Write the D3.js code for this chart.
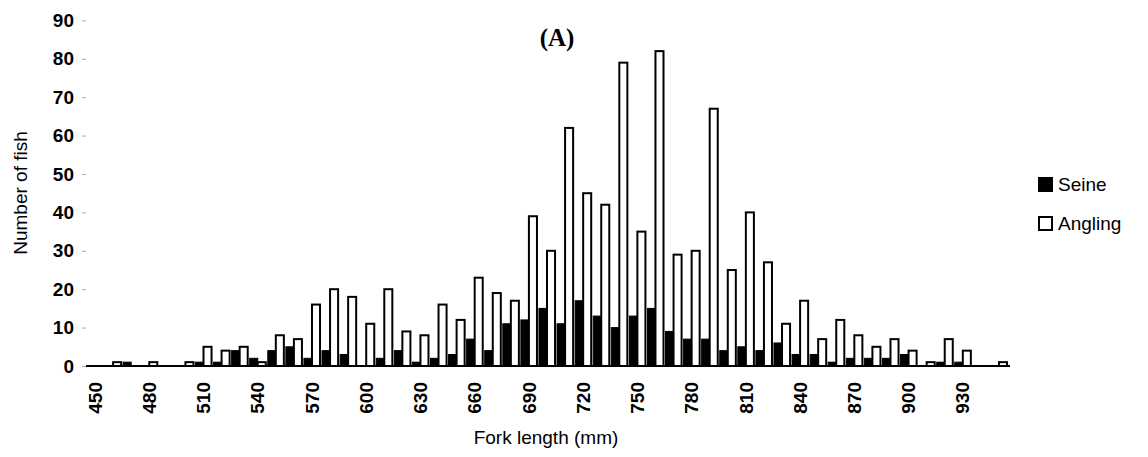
<!DOCTYPE html>
<html>
<head>
<meta charset="utf-8">
<script src="https://cdn.jsdelivr.net/npm/d3@7"></script>
<style>
  html, body { margin: 0; padding: 0; background: #fff; }
  svg { display: block; }
  text { fill: #000; }
</style>
</head>
<body>
<svg id="chart" width="1148" height="457"></svg>
<script>
// ---- data ----
const categories = [450,460,470,480,490,500,510,520,530,540,550,560,570,580,590,600,610,620,630,640,650,660,670,680,690,700,710,720,730,740,750,760,770,780,790,800,810,820,830,840,850,860,870,880,890,900,910,920,930,940,950];
const seine   = [0,0,1,0,0,0,1,1,4,2,4,5,2,4,3,0,2,4,1,2,3,7,4,11,12,15,11,17,13,10,13,15,9,7,7,4,5,4,6,3,3,1,2,2,2,3,0,1,1,0,0];
const angling = [0,1,0,1,0,1,5,4,5,1,8,7,16,20,18,11,20,9,8,16,12,23,19,17,39,30,62,45,42,79,35,82,29,30,67,25,40,27,11,17,7,12,8,5,7,4,1,7,4,0,1];
const seriesNames = ["Seine", "Angling"];
const xTickLabels = [450,480,510,540,570,600,630,660,690,720,750,780,810,840,870,900,930];
const yTickValues = [0,10,20,30,40,50,60,70,80,90];

const SANS = "'Liberation Sans', Arial, sans-serif";
const SERIF = "'Liberation Serif', 'Times New Roman', serif";

const svg = d3.select("#chart");

const x = d3.scaleBand().domain(categories).range([86, 1008]).padding(0);
const bw = x.bandwidth();
const xs = d3.scaleBand().domain(seriesNames).range([1, bw - 1]).padding(0);
const y = d3.scaleLinear().domain([0, 90]).range([366, 20.4]);

// bars
const rows = categories.map((c, i) => ({c, Seine: seine[i], Angling: angling[i]}));

const g = svg.append("g");
seriesNames.forEach(s => {
  g.selectAll("rect." + s)
    .data(rows.filter(d => d[s] > 0))
    .join("rect")
    .attr("class", s)
    .attr("x", d => x(d.c) + xs(s))
    .attr("y", d => y(d[s]))
    .attr("width", xs.bandwidth())
    .attr("height", d => y(0) - y(d[s]))
    .attr("fill", s === "Seine" ? "#000" : "#fff")
    .attr("stroke", "#000")
    .attr("stroke-width", s === "Seine" ? 1 : 2);
});

// baseline
svg.append("line")
  .attr("x1", 86).attr("x2", 1010)
  .attr("y1", y(0)).attr("y2", y(0))
  .attr("stroke", "#000").attr("stroke-width", 2);

// y axis (ticks faint, no line)
const yAxis = d3.axisLeft(y).tickValues(yTickValues).tickSize(4).tickPadding(8);
const ya = svg.append("g").attr("transform", "translate(86,0)").call(yAxis);
ya.select(".domain").remove();
ya.selectAll(".tick line").attr("stroke", "#aaa");
ya.selectAll(".tick text")
  .style("font-size", "19px").style("font-weight", "bold")
  .style("font-family", SANS)
  .attr("fill", "#000");

// x axis labels
const xAxis = d3.axisBottom(x).tickValues(xTickLabels).tickSize(0);
const xa = svg.append("g").attr("transform", `translate(0,${y(0)})`).call(xAxis);
xa.select(".domain").remove();
xa.selectAll(".tick text")
  .style("font-size", "19px").style("font-weight", "bold")
  .style("font-family", SANS)
  .attr("fill", "#000")
  .attr("text-anchor", "end")
  .attr("transform", "rotate(-90)")
  .attr("x", -16).attr("y", 0).attr("dy", "0.35em");

// axis titles
svg.append("text")
  .attr("x", 546).attr("y", 444)
  .attr("text-anchor", "middle")
  .style("font-family", SANS).style("font-size", "19px")
  .text("Fork length (mm)");

svg.append("text")
  .attr("transform", "translate(27,193) rotate(-90)")
  .attr("text-anchor", "middle")
  .style("font-family", SANS).style("font-size", "19px")
  .text("Number of fish");

// panel title
svg.append("text")
  .attr("x", 557).attr("y", 46)
  .attr("text-anchor", "middle")
  .style("font-family", SERIF)
  .style("font-weight", "bold")
  .style("font-size", "25px")
  .text("(A)");

// legend
const legend = svg.append("g");
seriesNames.forEach((s, i) => {
  const ly = 178 + i * 39;
  legend.append("rect")
    .attr("x", 1039).attr("y", ly)
    .attr("width", 13).attr("height", 13)
    .attr("fill", s === "Seine" ? "#000" : "#fff")
    .attr("stroke", "#000").attr("stroke-width", 2);
  legend.append("text")
    .attr("x", 1058).attr("y", ly + 13)
    .style("font-family", SANS).style("font-size", "19px")
    .text(s);
});
</script>
</body>
</html>
